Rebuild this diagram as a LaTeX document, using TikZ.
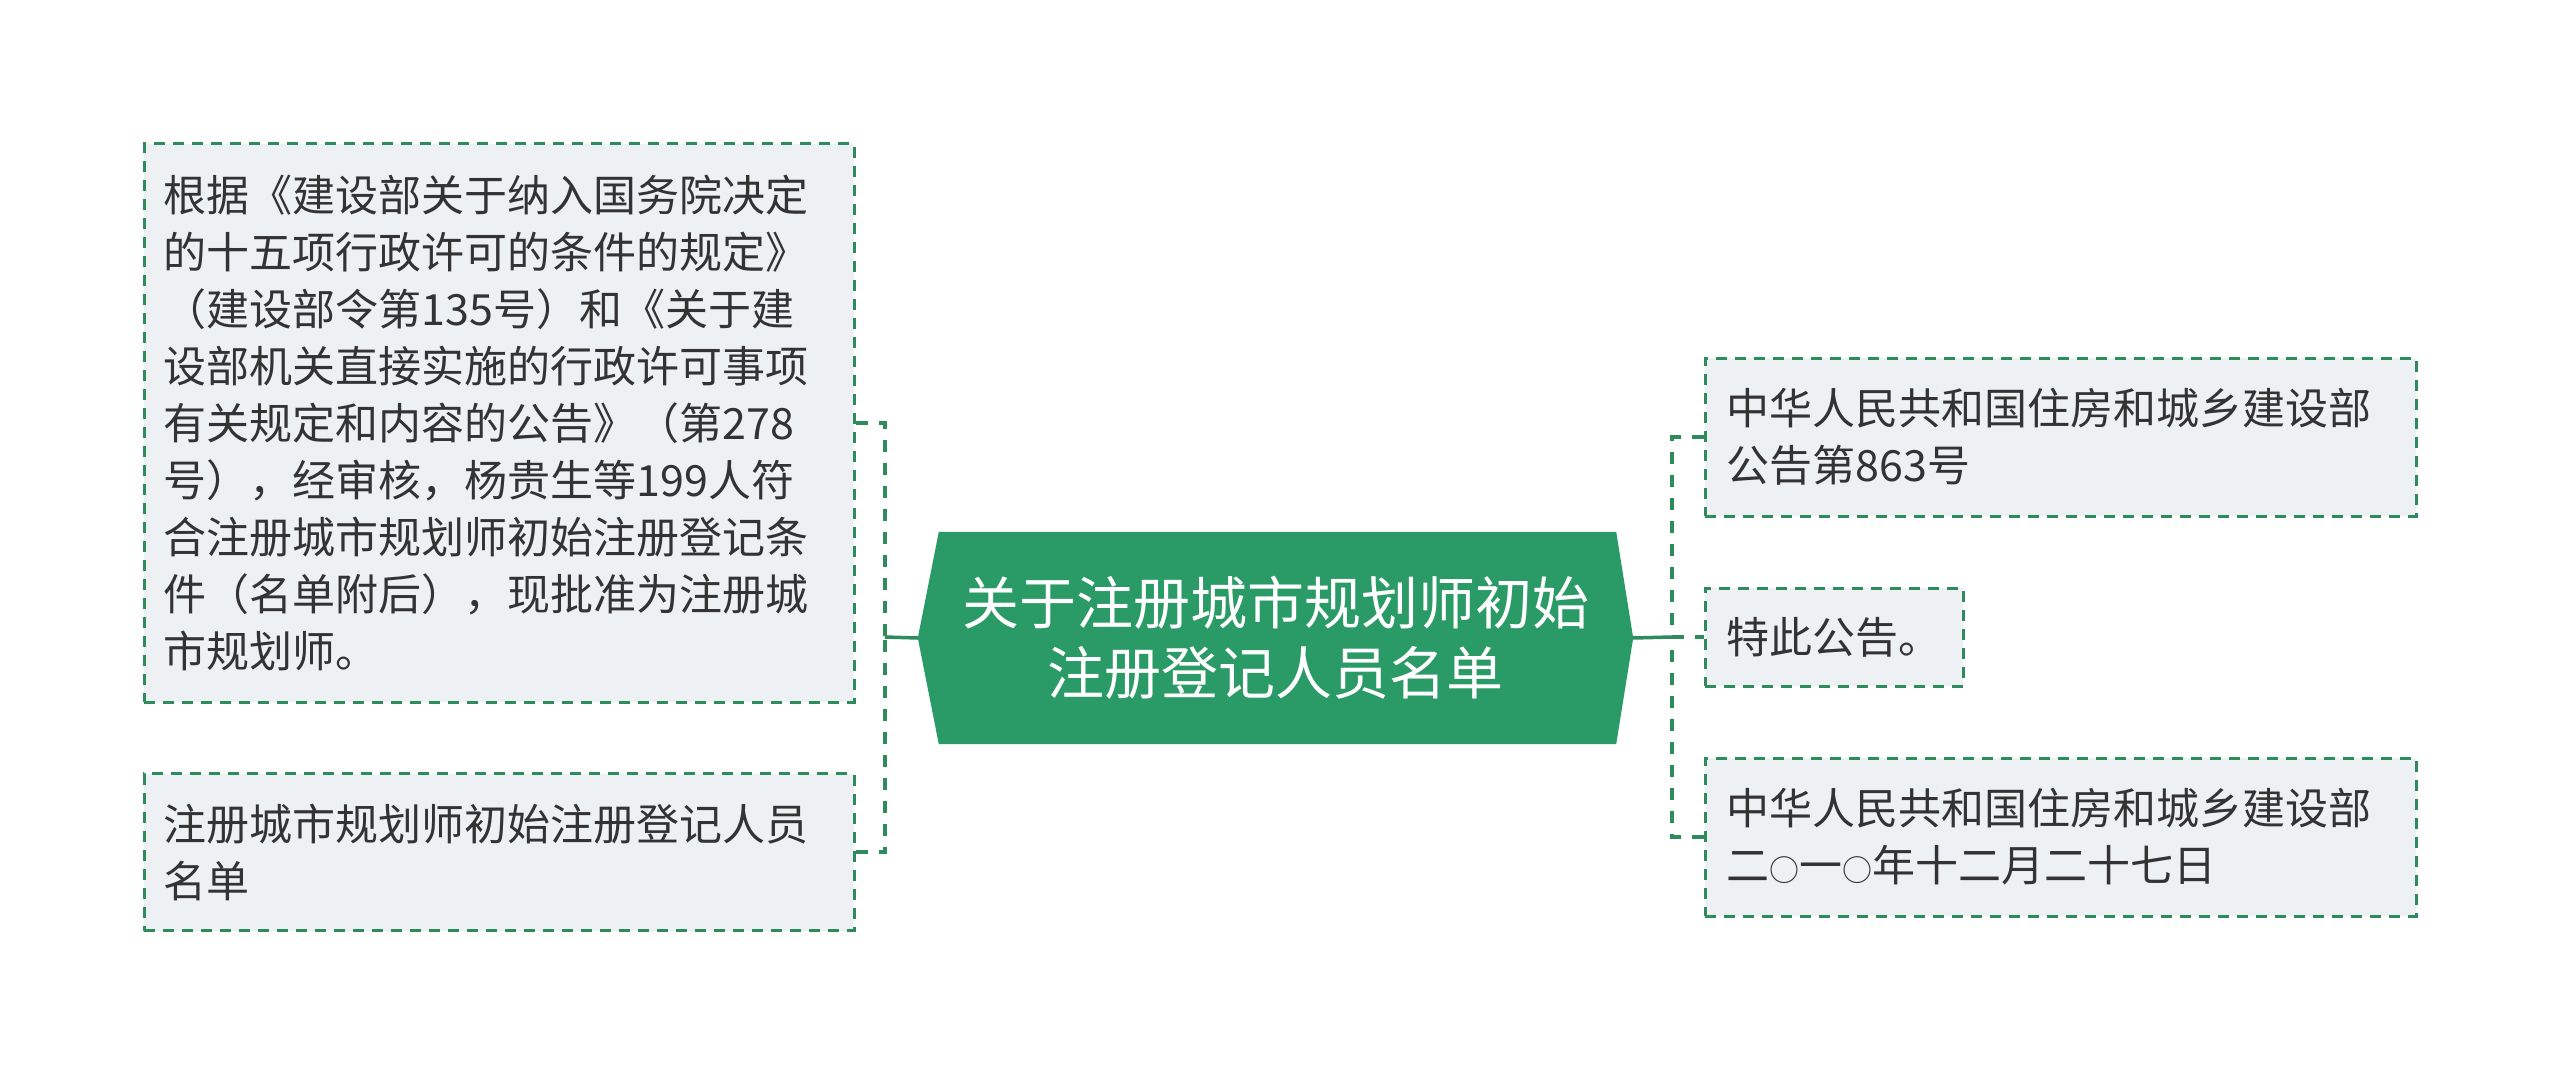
\documentclass[tikz,border=0pt]{standalone}
\usepackage{fontspec}
\setmainfont{Noto Sans CJK SC}
\definecolor{hexgreen}{HTML}{2A9A66}
\definecolor{linegreen}{HTML}{2E8B5C}
\definecolor{boxfill}{HTML}{EEF1F4}
\definecolor{txt}{HTML}{333333}
\newcommand{\smallcirc}{{\fontsize{30}{30}\selectfont ○}}
\begin{document}
\begin{tikzpicture}[x=1pt,y=-1pt,
  leaf/.style={draw=linegreen, line width=3pt, dash pattern=on 11pt off 8pt,
    fill=boxfill, inner sep=0pt},
  leaftext/.style={text=txt, align=left, anchor=west, inner sep=0pt,
    font=\fontsize{43}{57}\selectfont},
  conn/.style={draw=linegreen, line width=4pt, dash pattern=on 12pt off 11pt},
  solidconn/.style={draw=linegreen, line width=3.5pt}]
\useasboundingbox (0,0) rectangle (2560,1075);
\fill[white] (0,0) rectangle (2560,1075);

% center node
\node (C) at (1275.5,638) [minimum width=715pt, minimum height=212pt, inner sep=0pt] {};
\fill[hexgreen] (C.west) -- ([xshift=21pt]C.north west) -- ([xshift=-17pt]C.north east)
  -- (C.east) -- ([xshift=-17pt]C.south east) -- ([xshift=21pt]C.south west) -- cycle;
\node[text=white, align=center, font=\fontsize{57}{70}\selectfont] (CT) at (C.center) {关于注册城市规划师初始\\注册登记人员名单};

% left boxes
\node[leaf, minimum width=710pt, minimum height=558pt] (L1) at (499,423) {};
\node[leaftext] (L1T) at ([xshift=21pt]L1.west)
 {根据《建设部关于纳入国务院决定\\的十五项行政许可的条件的规定》\\（建设部令第135号）和《关于建\\设部机关直接实施的行政许可事项\\有关规定和内容的公告》（第278\\号），经审核，杨贵生等199人符\\合注册城市规划师初始注册登记条\\件（名单附后），现批准为注册城\\市规划师。};

\node[leaf, minimum width=710pt, minimum height=157pt] (L2) at (499,852) {};
\node[leaftext] (L2T) at ([xshift=21pt]L2.west)
 {注册城市规划师初始注册登记人员\\名单};

% right boxes
\node[leaf, minimum width=711pt, minimum height=158pt] (R1) at (2060.5,437) {};
\node[leaftext] (R1T) at ([xshift=23pt]R1.west)
 {中华人民共和国住房和城乡建设部\\公告第863号};

\node[leaf, minimum width=258pt, minimum height=98pt] (R2) at (1834,637) {};
\node[leaftext] (R2T) at ([xshift=23pt]R2.west)
 {特此公告。};

\node[leaf, minimum width=711pt, minimum height=158pt] (R3) at (2060.5,837) {};
\node[leaftext] (R3T) at ([xshift=23pt]R3.west)
 {中华人民共和国住房和城乡建设部\\二\smallcirc 一\smallcirc 年十二月二十七日};

% connectors
\coordinate (JL) at (885,637);
\coordinate (JR) at (1672,637);
\draw[solidconn] (C.west) -- (JL);
\draw[conn] (L1.east) -| (JL);
\draw[conn] (L2.east) -| (JL);
\draw[solidconn] (C.east) -- (JR);
\draw[conn] (R1.west) -| (JR);
\draw[conn] (R3.west) -| (JR);
\draw[conn] (JR) -- (R2.west);
\end{tikzpicture}
\end{document}
